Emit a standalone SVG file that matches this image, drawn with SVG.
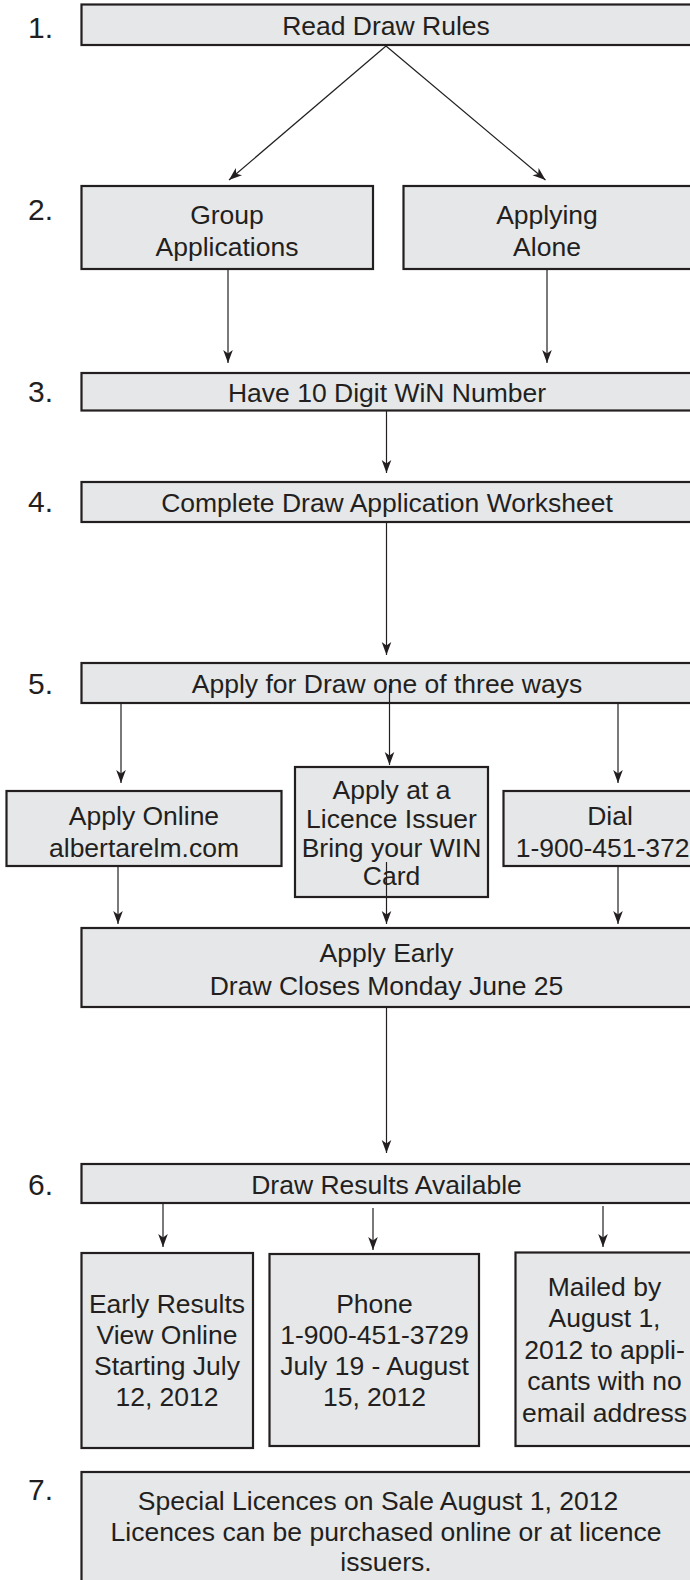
<svg xmlns="http://www.w3.org/2000/svg" width="690" height="1580" viewBox="0 0 690 1580">
<defs>
<marker id="ah" markerUnits="userSpaceOnUse" markerWidth="14" markerHeight="12" refX="13" refY="6" orient="auto" overflow="visible">
<path d="M13,6 L0,1.2 L3.5,6 L0,10.8 Z" fill="#231f20"/>
</marker>
<style>
.box{fill:#e6e7e8;stroke:#231f20;stroke-width:2.2}
.t{font-family:"Liberation Sans",Arial,Helvetica,sans-serif;font-size:26.5px;fill:#231f20;text-anchor:middle}
.n{font-family:"Liberation Sans",Arial,Helvetica,sans-serif;font-size:30px;fill:#231f20}
.c{stroke:#231f20;stroke-width:1.2;fill:none;marker-end:url(#ah)}
</style>
</defs>
<rect width="690" height="1580" fill="#ffffff"/>
<g id="labels">
<text class="n" x="28" y="37.5">1.</text>
<text class="n" x="28" y="219.5">2.</text>
<text class="n" x="28" y="402">3.</text>
<text class="n" x="28" y="511.5">4.</text>
<text class="n" x="28" y="693.5">5.</text>
<text class="n" x="28" y="1194.5">6.</text>
<text class="n" x="28" y="1500">7.</text>
</g>
<g id="n1"><rect class="box" x="81.5" y="4.5" width="612" height="40.5"/><text class="t" x="386" y="34.5">Read Draw Rules</text></g>
<g id="n2a"><rect class="box" x="81.5" y="186" width="291.5" height="83"/><text class="t"><tspan x="227" y="224">Group</tspan><tspan x="227" y="255.5">Applications</tspan></text></g>
<g id="n2b"><rect class="box" x="403.5" y="186" width="290" height="83"/><text class="t"><tspan x="547" y="224">Applying</tspan><tspan x="547" y="255.5">Alone</tspan></text></g>
<g id="n3"><rect class="box" x="81.5" y="373" width="612" height="37.5"/><text class="t" x="387" y="402">Have 10 Digit WiN Number</text></g>
<g id="n4"><rect class="box" x="81.5" y="482" width="612" height="40"/><text class="t" x="387" y="511.5">Complete Draw Application Worksheet</text></g>
<g id="n5"><rect class="box" x="81.5" y="663" width="612" height="40"/><text class="t" x="387" y="693">Apply for Draw one of three ways</text></g>
<g id="n5a"><rect class="box" x="6.5" y="791" width="275" height="75"/><text class="t"><tspan x="144" y="825">Apply Online</tspan><tspan x="144" y="857">albertarelm.com</tspan></text></g>
<g id="n5b"><rect class="box" x="295" y="767" width="193" height="130"/><text class="t"><tspan x="391.5" y="799">Apply at a</tspan><tspan x="391.5" y="828">Licence Issuer</tspan><tspan x="391.5" y="856.5">Bring your WIN</tspan><tspan x="391.5" y="885">Card</tspan></text></g>
<g id="n5c"><rect class="box" x="503.5" y="791" width="220" height="75"/><text class="t"><tspan x="610" y="825">Dial</tspan><tspan x="610" y="857">1-900-451-3729</tspan></text></g>
<g id="n5d"><rect class="box" x="81.5" y="928" width="612" height="79"/><text class="t"><tspan x="386.5" y="961.5">Apply Early</tspan><tspan x="386.5" y="994.5">Draw Closes Monday June 25</tspan></text></g>
<g id="n6"><rect class="box" x="81.5" y="1164" width="612" height="39"/><text class="t" x="386.5" y="1193.5">Draw Results Available</text></g>
<g id="n6a"><rect class="box" x="81.5" y="1253" width="171.5" height="195"/><text class="t"><tspan x="167" y="1313">Early Results</tspan><tspan x="167" y="1344">View Online</tspan><tspan x="167" y="1375">Starting July</tspan><tspan x="167" y="1406">12, 2012</tspan></text></g>
<g id="n6b"><rect class="box" x="269.5" y="1254" width="209.5" height="192"/><text class="t"><tspan x="374.5" y="1313">Phone</tspan><tspan x="374.5" y="1344">1-900-451-3729</tspan><tspan x="374.5" y="1375">July 19 - August</tspan><tspan x="374.5" y="1406">15, 2012</tspan></text></g>
<g id="n6c"><rect class="box" x="515.5" y="1252.5" width="180" height="193.5"/><text class="t"><tspan x="604.5" y="1295.5">Mailed by</tspan><tspan x="604.5" y="1327">August 1,</tspan><tspan x="604.5" y="1358.5">2012 to appli-</tspan><tspan x="604.5" y="1390">cants with no</tspan><tspan x="604.5" y="1421.5">email address</tspan></text></g>
<g id="n7"><rect class="box" x="81.5" y="1472" width="612" height="120"/><text class="t"><tspan x="378" y="1510">Special Licences on Sale August 1, 2012</tspan><tspan x="386" y="1541">Licences can be purchased online or at licence</tspan><tspan x="386" y="1571">issuers.</tspan></text></g>
<g id="connectors">
<line class="c" x1="386" y1="46" x2="229" y2="180"/>
<line class="c" x1="386" y1="46" x2="545.5" y2="180"/>
<line class="c" x1="228" y1="269" x2="228" y2="363"/>
<line class="c" x1="547" y1="269" x2="547" y2="363"/>
<line class="c" x1="386.5" y1="411" x2="386.5" y2="473"/>
<line class="c" x1="386.5" y1="522" x2="386.5" y2="655"/>
<line class="c" x1="121" y1="703" x2="121" y2="783"/>
<line class="c" x1="389.5" y1="685" x2="389.5" y2="765"/>
<line class="c" x1="618" y1="703" x2="618" y2="783"/>
<line class="c" x1="118" y1="866" x2="118" y2="924"/>
<line class="c" x1="386.5" y1="862" x2="386.5" y2="924"/>
<line class="c" x1="618" y1="866" x2="618" y2="924"/>
<line class="c" x1="386.5" y1="1007" x2="386.5" y2="1153"/>
<line class="c" x1="163" y1="1204" x2="163" y2="1247"/>
<line class="c" x1="373" y1="1208" x2="373" y2="1250"/>
<line class="c" x1="603" y1="1206" x2="603" y2="1247"/>
</g>
</svg>
